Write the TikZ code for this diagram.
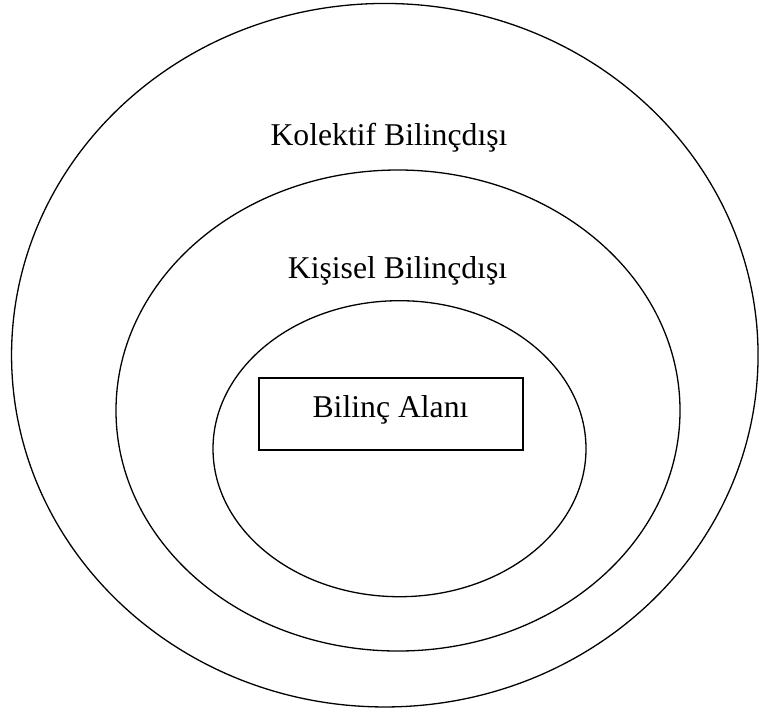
\documentclass[tikz,border=0pt]{standalone}
\usepackage{fontspec}
\setmainfont{Liberation Serif}
\usetikzlibrary{shapes.geometric}
\begin{document}
\begin{tikzpicture}[x=1pt,y=-1pt,
  ring/.style={draw=black,line width=1.3pt,ellipse,inner sep=0pt,outer sep=0pt},
  areabox/.style={draw=black,line width=1.3pt,rectangle,inner sep=0pt,minimum width=264pt,minimum height=72pt},
  lbl/.style={font=\fontsize{31.7pt}{36pt}\selectfont,inner sep=0pt,anchor=base}]
  \useasboundingbox[fill=white] (0,0) rectangle (759,713);
  % nested regions of the psyche
  \node[ring,minimum width=746.5pt,minimum height=703.5pt] (kolektif) at (384.8,355.2) {};
  \node[ring,minimum width=564pt,minimum height=481pt] (kisisel) at (398,410.5) {};
  \node[ring,minimum width=373pt,minimum height=296pt] (bilinc) at (399.5,448.7) {};
  % conscious field
  \node[areabox] (alan) at (391,414) {};
  \node[lbl] (alanText) at (390.5,417) {Bilinç Alanı};
  % region labels
  \node[lbl] (kolektifText) at (389,145) {Kolektif Bilinçdışı};
  \node[lbl] (kisiselText) at (397.5,278) {Kişisel Bilinçdışı};
\end{tikzpicture}
\end{document}
